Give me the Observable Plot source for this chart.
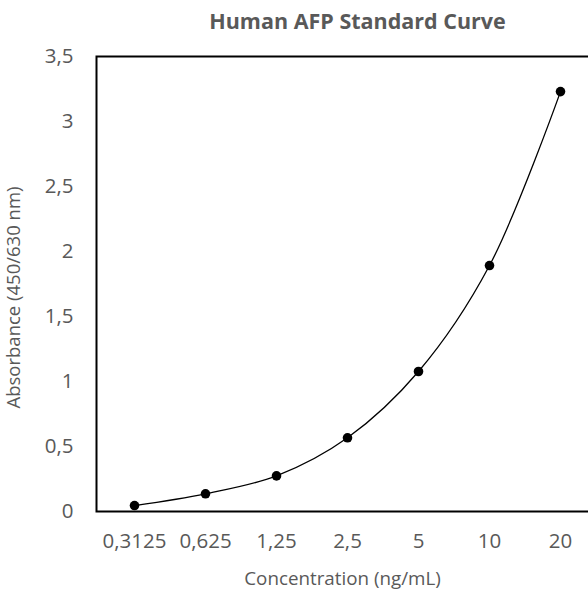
<!DOCTYPE html>
<html><head><meta charset="utf-8">
<script src="https://cdn.jsdelivr.net/npm/d3@7"></script>
<script src="https://cdn.jsdelivr.net/npm/@observablehq/plot@0.6"></script>
<style>body{margin:0;background:#fff;} svg{display:block;}</style>
</head><body><div id="chart"></div>
<script>
const concentrations = ["0.3125", "0.625", "1.25", "2.5", "5", "10", "20"];
const absorbance = [0.046, 0.136, 0.274, 0.567, 1.077, 1.892, 3.23];
const yTicks = [0, 0.5, 1, 1.5, 2, 2.5, 3, 3.5];
const title = "Human AFP Standard Curve";
const xLabel = "Concentration (ng/mL)";
const yLabel = "Absorbance (450/630 nm)";

const data = concentrations.map((c, i) => ({c, a: absorbance[i]}));
const comma = d => String(d).replace(".", ",");
const font = "Open Sans, Lato, sans-serif";
const grey = "#595959";

const chart = Plot.plot({
  width: 588, height: 592,
  marginLeft: 96, marginRight: -10, marginTop: 56, marginBottom: 81,
  style: {fontFamily: font, background: "#fff"},
  x: {type: "point", domain: concentrations, padding: 0.5, label: null},
  y: {domain: [0, 3.5], label: null},
  marks: [
    Plot.axisY({ticks: yTicks, tickFormat: comma, tickSize: 0, tickPadding: 23, fontSize: 20.5, fill: grey, label: null}),
    Plot.axisX({tickFormat: comma, tickSize: 0, tickPadding: 22, fontSize: 20.5, fill: grey, label: null}),
    Plot.frame({stroke: "black", strokeWidth: 2}),
    Plot.line(data, {x: "c", y: "a", curve: "catmull-rom", stroke: "black", strokeWidth: 1.3}),
    Plot.dot(data, {x: "c", y: "a", r: 4.8, fill: "black"}),
    Plot.text([title], {frameAnchor: "top", dx: 10, dy: -34, lineAnchor: "middle", textAnchor: "middle", text: d => d, fontSize: 21.5, fontWeight: "bold", fill: grey, fontFamily: font}),
    Plot.text([xLabel], {frameAnchor: "bottom", dx: -5, dy: 67, lineAnchor: "middle", textAnchor: "middle", text: d => d, fontSize: 18.8, fill: grey, fontFamily: font}),
    Plot.text([yLabel], {frameAnchor: "left", dx: -82, dy: 13.5, rotate: -90, lineAnchor: "middle", textAnchor: "middle", text: d => d, fontSize: 18.5, fill: grey, fontFamily: font})
  ]
});
document.getElementById("chart").appendChild(chart);
</script></body></html>
